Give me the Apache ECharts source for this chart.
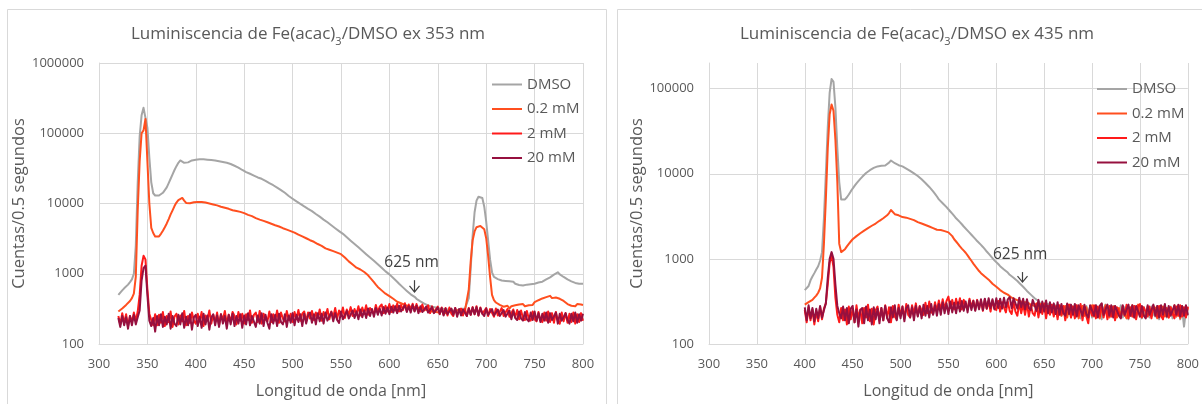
<!DOCTYPE html>
<html>
<head>
<meta charset="utf-8">
<script src="https://cdn.jsdelivr.net/npm/echarts@6/dist/echarts.min.js"></script>
<style>
html,body{margin:0;padding:0;background:#fff;}
#chart{width:1202px;height:404px;}
</style>
</head>
<body>
<div id="chart"></div>
<script>
// ---------- DATA ----------
const seriesNames = ['DMSO', '0.2 mM', '2 mM', '20 mM'];
const xTicks = [300, 350, 400, 450, 500, 550, 600, 650, 700, 750, 800];
const yTicksLeft = [100, 1000, 10000, 100000, 1000000];
const yTicksRight = [100, 1000, 10000, 100000];

// Left chart (ex 353 nm): wavelengths start at 320 nm, 2 nm step
const wlStart353 = 320;
const wlStep353 = 2;
const dmso353 = [
/*320*/ 500,540,580,620,660,700,760,830,1000,2500,
/*340*/ 20000,90000,180000,230000,220000,120000,45000,20000,14000,13000,
/*360*/ 12800,13000,13500,14200,15500,17000,19500,22500,26000,30000,
/*380*/ 34000,38000,41000,40000,38000,37000,38500,40000,41000,41500,
/*400*/ 42000,42000,42500,42500,42500,42500,42000,42000,41500,41000,
/*420*/ 41000,40500,40000,39500,39000,38500,38000,37000,36500,35500,
/*440*/ 34500,33500,32500,31000,30000,29000,28000,27500,26500,26000,
/*460*/ 25000,24500,23500,23000,22500,22000,21000,20500,19500,19000,
/*480*/ 18200,17500,16800,16200,15500,14800,14200,13500,12800,12200,
/*500*/ 11700,11200,10700,10300,9900,9500,9100,8700,8400,8100,
/*520*/ 7800,7500,7100,6800,6500,6200,5900,5600,5400,5100,
/*540*/ 4900,4700,4450,4250,4050,3900,3700,3500,3300,3150,
/*560*/ 2950,2800,2650,2500,2380,2240,2130,2020,1900,1800,
/*580*/ 1700,1620,1530,1450,1370,1290,1220,1150,1080,1030,
/*600*/ 980,920,870,820,770,720,680,640,610,570,
/*620*/ 540,510,480,470,440,420,405,390,375,365,
/*640*/ 355,345,340,335,330,325,320,318,315,312,
/*660*/ 310,300,315,295,312,300,290,315,305,320,
/*680*/ 330,450,1200,3500,7500,11000,12500,12800,12000,9000,
/*700*/ 5500,3000,1600,1050,900,860,840,820,800,810,
/*720*/ 790,770,780,750,770,720,740,690,720,680,
/*740*/ 670,700,660,710,690,720,700,750,720,770,
/*760*/ 780,830,840,890,920,970,990,1050,980,960,
/*780*/ 900,890,830,830,780,800,740,760,720,740,
/*800*/ 720
];
const mM02_353 = [
/*320*/ 290,300,320,340,360,380,410,450,520,900,
/*340*/ 8000,40000,100000,110000,160000,40000,10000,4500,3800,3400,
/*360*/ 3300,3400,3700,4100,4600,5200,6000,7000,8000,9200,
/*380*/ 10300,11200,11800,12000,11000,10200,10000,10100,10300,10400,
/*400*/ 10400,10500,10600,10500,10400,10300,10200,10000,9900,9700,
/*420*/ 9600,9400,9200,9000,8800,8700,8500,8400,8200,8000,
/*440*/ 7900,7800,7700,7600,7400,7300,7100,6900,6800,6600,
/*460*/ 6300,6200,6050,5900,5800,5650,5500,5400,5250,5150,
/*480*/ 5000,4900,4800,4700,4600,4450,4350,4250,4150,4050,
/*500*/ 3950,3850,3700,3600,3500,3400,3300,3200,3100,3000,
/*520*/ 2950,2850,2750,2650,2550,2500,2400,2300,2250,2200,
/*540*/ 2150,2100,2050,2000,1950,1900,1800,1700,1600,1500,
/*560*/ 1420,1350,1280,1220,1180,1150,1100,1060,1000,950,
/*580*/ 880,820,760,700,650,610,580,550,520,500,
/*600*/ 480,460,440,420,400,390,380,370,360,350,
/*620*/ 345,340,335,330,330,325,320,310,315,305,
/*640*/ 300,310,290,305,285,300,280,305,290,275,
/*660*/ 295,280,300,275,295,280,305,285,300,295,
/*680*/ 300,600,1500,3000,4000,4600,4700,4800,4700,4300,
/*700*/ 3200,1800,900,500,420,390,370,360,350,340,
/*720*/ 330,350,320,345,330,355,340,365,345,370,
/*740*/ 345,365,355,375,360,395,380,420,405,445,
/*760*/ 440,465,455,485,450,480,460,470,440,445,
/*780*/ 410,400,370,380,350,365,345,370,350,365,
/*800*/ 360
];
const mM2_353 = [
/*320*/ 250,190,275,200,265,180,250,205,280,215,
/*340*/ 290,500,1300,1800,1600,600,270,220,185,265,
/*360*/ 185,260,200,285,180,250,205,290,175,245,
/*380*/ 270,190,255,210,295,185,250,200,280,215,
/*400*/ 195,270,210,285,180,255,220,300,195,260,
/*420*/ 205,280,185,265,220,295,195,260,210,285,
/*440*/ 250,190,285,215,270,195,265,220,300,200,
/*460*/ 260,280,205,295,195,270,225,210,290,205,
/*480*/ 265,215,300,200,280,230,210,295,220,270,
/*500*/ 205,285,225,305,215,270,290,210,280,230,
/*520*/ 295,220,280,235,310,215,285,240,315,225,
/*540*/ 290,240,325,230,300,250,330,235,310,260,
/*560*/ 335,250,315,265,345,255,330,270,355,260,
/*580*/ 325,345,270,360,285,340,365,275,350,290,
/*600*/ 370,285,355,300,375,290,360,305,380,295,
/*620*/ 365,305,375,295,370,310,290,365,300,285,
/*640*/ 355,275,345,285,270,340,265,330,260,325,
/*660*/ 255,330,270,250,325,260,245,320,255,315,
/*680*/ 250,325,260,335,265,345,255,330,270,260,
/*700*/ 325,250,315,335,245,320,255,240,325,250,
/*720*/ 235,315,245,230,310,240,305,225,300,235,
/*740*/ 220,295,230,215,290,225,210,285,220,205,
/*760*/ 280,215,290,205,275,200,285,215,195,280,
/*780*/ 210,275,200,270,205,280,195,265,205,275,
/*800*/ 215
];
const mM20_353 = [
/*320*/ 235,175,250,185,240,165,250,185,260,190,
/*340*/ 240,300,800,1200,1300,500,215,180,235,150,
/*360*/ 250,185,265,175,245,190,270,165,250,195,
/*380*/ 180,260,190,275,170,245,185,265,160,240,
/*400*/ 260,180,245,170,270,190,255,160,240,265,
/*420*/ 185,255,175,265,195,250,165,260,190,270,
/*440*/ 180,250,195,265,170,255,190,275,185,250,
/*460*/ 265,175,255,195,275,180,260,200,165,265,
/*480*/ 195,260,180,270,205,190,265,175,255,200,
/*500*/ 275,185,260,205,265,180,270,195,255,280,
/*520*/ 200,265,190,275,210,270,195,280,215,205,
/*540*/ 285,210,275,220,200,290,225,215,295,230,
/*560*/ 220,300,235,290,225,310,240,300,235,320,
/*580*/ 250,315,245,325,260,320,255,335,270,330,
/*600*/ 265,340,280,345,275,350,290,280,355,285,
/*620*/ 345,280,360,290,350,275,345,285,270,340,
/*640*/ 280,265,335,275,260,330,270,325,255,320,
/*660*/ 265,250,320,260,325,245,315,255,310,325,
/*680*/ 250,320,260,330,265,335,255,325,270,250,
/*700*/ 320,260,245,315,255,240,310,250,235,305,
/*720*/ 245,230,300,225,295,235,220,290,230,215,
/*740*/ 285,225,210,280,220,290,215,275,205,270,
/*760*/ 215,280,200,275,220,210,280,195,270,215,
/*780*/ 205,275,220,195,270,210,280,200,265,215,
/*800*/ 270
];

// Right chart (ex 435 nm): wavelengths start at 400 nm, 2 nm step
const wlStart435 = 400;
const wlStep435 = 2;
const dmso435 = [
/*400*/ 430,450,480,560,620,680,750,820,950,1200,
/*420*/ 3000,10000,35000,90000,130000,120000,60000,20000,8000,5000,
/*440*/ 4900,5000,5300,5700,6200,6700,7200,7700,8200,8700,
/*460*/ 9200,9700,10200,10700,11000,11300,11700,12000,12200,12300,
/*480*/ 12400,12600,12500,12800,13500,14300,14000,13300,12900,12600,
/*500*/ 12400,12200,11800,11500,11100,10800,10400,10100,9700,9400,
/*520*/ 9000,8600,8200,7800,7400,7000,6600,6200,5800,5400,
/*540*/ 5000,4750,4500,4300,4050,3850,3600,3400,3200,3000,
/*560*/ 2850,2700,2550,2400,2280,2150,2030,1920,1820,1720,
/*580*/ 1620,1540,1460,1380,1300,1220,1150,1090,1020,960,
/*600*/ 920,870,820,790,750,720,690,650,620,600,
/*620*/ 575,550,520,500,470,450,420,400,380,360,
/*640*/ 345,335,320,300,290,280,270,295,255,285,
/*660*/ 235,285,220,280,215,270,210,285,250,205,
/*680*/ 275,215,285,230,200,270,215,280,225,275,
/*700*/ 205,265,285,210,270,195,255,290,215,270,
/*720*/ 210,280,200,265,220,285,205,270,225,195,
/*740*/ 265,210,280,200,255,285,200,270,215,265,
/*760*/ 205,275,225,210,280,195,265,215,285,205,
/*780*/ 260,275,200,270,210,280,195,260,160,250,
/*800*/ 215
];
const mM02_435 = [
/*400*/ 290,300,310,320,330,350,370,400,450,600,
/*420*/ 1500,5000,20000,50000,65000,55000,25000,8000,1500,1200,
/*440*/ 1250,1300,1400,1500,1600,1700,1750,1850,1900,2000,
/*460*/ 2050,2150,2200,2300,2350,2450,2500,2600,2700,2800,
/*480*/ 2900,3000,3100,3250,3450,3750,3600,3350,3200,3250,
/*500*/ 3150,3100,3150,3050,3000,2950,2900,2850,2750,2700,
/*520*/ 2650,2600,2550,2500,2450,2400,2350,2300,2250,2200,
/*540*/ 2200,2180,2150,2120,2100,2050,1950,1850,1700,1600,
/*560*/ 1500,1400,1320,1250,1180,1100,1020,950,880,820,
/*580*/ 770,720,680,650,620,590,570,540,510,490,
/*600*/ 470,450,430,420,400,390,380,365,350,345,
/*620*/ 335,330,320,325,310,300,310,295,290,300,
/*640*/ 280,300,260,295,250,285,240,280,230,275,
/*660*/ 220,275,210,270,215,265,280,205,260,225,
/*680*/ 275,210,270,200,260,280,215,270,205,255,
/*700*/ 285,210,265,275,200,270,215,285,225,205,
/*720*/ 270,215,280,205,265,210,275,225,200,270,
/*740*/ 215,285,205,265,290,210,270,220,205,275,
/*760*/ 225,210,280,265,200,270,215,275,210,265,
/*780*/ 205,270,220,285,210,265,200,280,225,210,
/*800*/ 270
];
const mM2_435 = [
/*400*/ 250,180,270,190,255,170,240,185,270,195,
/*420*/ 260,300,500,900,1100,800,350,220,180,265,
/*440*/ 190,255,170,275,195,260,180,285,200,255,
/*460*/ 175,265,205,290,185,260,170,250,275,195,
/*480*/ 265,190,285,205,270,180,280,210,195,290,
/*500*/ 215,275,200,295,220,205,285,225,300,215,
/*520*/ 280,295,220,305,230,315,240,225,310,245,
/*540*/ 325,250,335,260,320,360,265,330,255,340,
/*560*/ 265,345,255,330,275,260,340,270,325,250,
/*580*/ 330,265,320,245,335,260,315,240,325,265,
/*600*/ 250,320,240,310,325,235,315,245,225,310,
/*620*/ 240,215,305,230,295,220,300,210,285,230,
/*640*/ 215,295,205,285,225,300,200,280,220,290,
/*660*/ 210,275,195,285,220,280,190,270,290,205,
/*680*/ 275,200,285,215,295,190,270,210,175,280,
/*700*/ 215,285,200,275,210,295,205,270,195,280,
/*720*/ 210,275,190,270,285,205,275,215,290,200,
/*740*/ 270,210,280,195,275,295,205,270,285,210,
/*760*/ 275,200,270,285,210,280,215,195,275,290,
/*780*/ 205,270,280,200,275,215,285,210,270,205,
/*800*/ 275
];
const mM20_435 = [
/*400*/ 270,190,285,200,265,185,260,200,280,205,
/*420*/ 250,300,600,1000,1200,1000,500,280,230,200,
/*440*/ 275,190,265,175,260,280,180,255,160,250,
/*460*/ 265,175,275,190,255,170,270,195,260,175,
/*480*/ 265,190,280,200,180,270,205,285,190,265,
/*500*/ 200,275,185,265,285,205,270,190,280,210,
/*520*/ 275,200,290,215,280,205,295,220,285,215,
/*540*/ 295,220,310,230,300,225,315,235,305,230,
/*560*/ 310,240,320,245,315,235,325,250,320,245,
/*580*/ 325,255,335,250,340,260,345,265,335,255,
/*600*/ 345,265,340,260,350,270,335,355,265,345,
/*620*/ 335,260,350,270,340,255,335,265,250,330,
/*640*/ 320,245,330,235,315,240,325,230,310,235,
/*660*/ 300,225,310,220,295,230,215,300,225,290,
/*680*/ 220,295,210,285,300,215,290,225,205,285,
/*700*/ 295,215,285,205,280,300,220,210,290,215,
/*720*/ 285,205,280,295,215,200,285,220,210,290,
/*740*/ 215,285,205,280,295,210,280,215,200,285,
/*760*/ 220,210,290,215,280,205,285,220,295,210,
/*780*/ 280,215,205,285,220,290,210,280,215,285,
/*800*/ 220
];

// Annotation "625 nm": [wavelength, text value, arrow top value, arrow tip value]
const annotLabel = '625 nm';
const annotLeft = [625, 1450, 810, 550];
const annotRight = [627, 1135, 700, 533];

// ---------- STYLE ----------
const colors = ['#A5A5A5', '#FF4F1F', '#FF1A1A', '#96103F'];
const FONT = '"Open Sans", sans-serif';
const TXT = '#595959';
const GRID = '#D9D9D9';

function pairs(start, step, vals) {
  return vals.map((v, i) => [start + step * i, v]);
}
const leftSets = [dmso353, mM02_353, mM2_353, mM20_353];
const rightSets = [dmso435, mM02_435, mM2_435, mM20_435];

const series = [];
function addSeries(sets, start, step, gi) {
  sets.forEach((vals, k) => series.push({
    type: 'line', name: seriesNames[k], xAxisIndex: gi, yAxisIndex: gi,
    data: pairs(start, step, vals), showSymbol: false, symbol: 'none',
    lineStyle: { width: 2, color: colors[k], join: 'round' }, itemStyle: { color: colors[k] },
    z: 2 + k, animation: false, silent: true
  }));
}
addSeries(leftSets, wlStart353, wlStep353, 0);
addSeries(rightSets, wlStart435, wlStep435, 1);

function xAxis(gi) {
  return {
    type: 'value', gridIndex: gi, min: xTicks[0], max: xTicks[xTicks.length - 1], interval: 50,
    axisLine: { show: true, lineStyle: { color: GRID, width: 1 } },
    axisTick: { show: false },
    splitLine: { show: true, lineStyle: { color: GRID, width: 1 } },
    axisLabel: { color: TXT, fontFamily: FONT, fontSize: 13, margin: 14 },
    name: 'Longitud de onda [nm]', nameLocation: 'middle', nameGap: 39,
    nameTextStyle: { color: TXT, fontFamily: FONT, fontSize: 16 }
  };
}
function yAxis(gi, ticks, max, nameGap) {
  const topIsTick = max === ticks[ticks.length - 1];
  return {
    type: 'log', logBase: 10, gridIndex: gi, min: ticks[0], max: max,
    axisLine: { show: true, lineStyle: { color: GRID, width: 1 } },
    axisTick: { show: false },
    splitLine: { show: true, showMaxLine: topIsTick, lineStyle: { color: GRID, width: 1 } },
    axisLabel: {
      color: TXT, fontFamily: FONT, fontSize: 13, margin: 15,
      showMaxLabel: topIsTick,
      formatter: v => (ticks.indexOf(Math.round(v)) >= 0 ? String(Math.round(v)) : '')
    },
    name: 'Cuentas/0.5 segundos', nameLocation: 'middle', nameGap: nameGap,
    nameTextStyle: { color: TXT, fontFamily: FONT, fontSize: 16.5 }
  };
}
function legend(left, top) {
  return {
    orient: 'vertical', left: left, top: top, data: seriesNames,
    icon: 'rect', itemWidth: 30, itemHeight: 2, itemGap: 7.5,
    textStyle: { color: TXT, fontFamily: FONT, fontSize: 15, lineHeight: 17 },
    selectedMode: false
  };
}
function title(text, left) {
  return {
    text: '{a|Luminiscencia de Fe(acac)}{s|3}{a|/DMSO ' + text + '}',
    left: left, top: 21, textAlign: 'center',
    textStyle: {
      fontWeight: 'normal',
      rich: {
        a: { fontFamily: FONT, fontSize: 17, fontWeight: 'normal', color: TXT, verticalAlign: 'bottom', padding: [0, 0, 4, 0] },
        s: { fontFamily: FONT, fontSize: 11, fontWeight: 'normal', color: TXT, verticalAlign: 'bottom' }
      }
    }
  };
}

const chart = echarts.init(document.getElementById('chart'), null, { renderer: 'canvas' });
chart.setOption({
  backgroundColor: '#ffffff',
  animation: false,
  title: [title('ex 353 nm', 303), title('ex 435 nm', 912)],
  legend: [legend(487, 71), legend(1092, 75.5)],
  grid: [
    { left: 99, top: 63, width: 484, height: 282, containLabel: false },
    { left: 709, top: 63, width: 484, height: 282, containLabel: false }
  ],
  xAxis: [xAxis(0), xAxis(1)],
  yAxis: [yAxis(0, yTicksLeft, 1000000, 68), yAxis(1, yTicksRight, 200000, 63)],
  series: series
});

function annotation(gi, a) {
  const pText = chart.convertToPixel({ gridIndex: gi }, [a[0], a[1]]);
  const pTop = chart.convertToPixel({ gridIndex: gi }, [a[0], a[2]]);
  const pTip = chart.convertToPixel({ gridIndex: gi }, [a[0], a[3]]);
  const x = Math.round(pTop[0]) + 0.5;
  return [
    { type: 'text', x: pText[0] - 2, y: pText[1], z: 100,
      style: { text: annotLabel, fill: '#404040', font: '15.5px ' + FONT, align: 'center', verticalAlign: 'middle' } },
    { type: 'line', z: 100, shape: { x1: x, y1: pTop[1], x2: x, y2: pTip[1] },
      style: { stroke: '#404040', lineWidth: 1.2 } },
    { type: 'polyline', z: 100, shape: { points: [[x - 5, pTip[1] - 6], [x, pTip[1]], [x + 5, pTip[1] - 6]] },
      style: { stroke: '#404040', lineWidth: 1.2, fill: null } }
  ];
}

chart.setOption({
  graphic: [
    { type: 'rect', z: -10, shape: { x: 7.5, y: 9.5, width: 599, height: 420 }, style: { fill: null, stroke: GRID, lineWidth: 1 } },
    { type: 'rect', z: -10, shape: { x: 617.5, y: 9.5, width: 590, height: 420 }, style: { fill: null, stroke: GRID, lineWidth: 1 } }
  ].concat(annotation(0, annotLeft)).concat(annotation(1, annotRight))
});
</script>
</body>
</html>
